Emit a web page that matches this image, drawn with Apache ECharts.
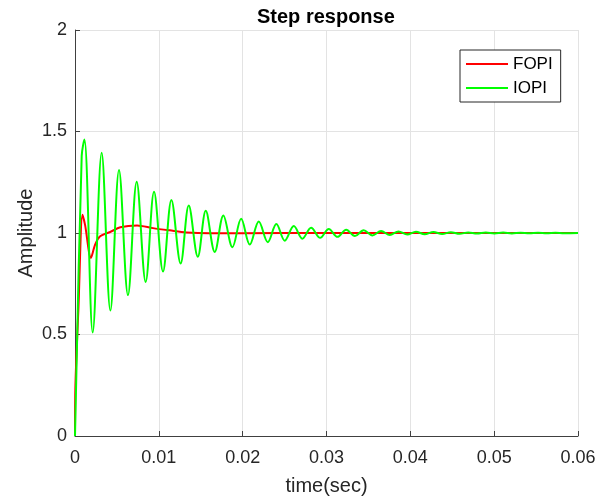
<!DOCTYPE html>
<html>
<head>
<meta charset="utf-8">
<script src="https://cdn.jsdelivr.net/npm/echarts@6/dist/echarts.min.js"></script>
<style>
  html, body { margin: 0; padding: 0; background: #fff; }
  #chart { width: 614px; height: 501px; }
</style>
</head>
<body>
<div id="chart"></div>
<script>
// Step response of the fractional-order PI (FOPI) and integer-order PI (IOPI) loops
const chartTitle = 'Step response';
const xAxisName = 'time(sec)';
const yAxisName = 'Amplitude';
const seriesNames = ['FOPI', 'IOPI'];
const xTicks = [0, 0.01, 0.02, 0.03, 0.04, 0.05, 0.06];
const yTicks = [0, 0.5, 1, 1.5, 2];

// FOPI: one overshoot, a dip, then a slow hump back to 1
const fopiTime = [0, 0.00005, 0.0004, 0.0009, 0.0012, 0.0019, 0.0024, 0.003, 0.0042,
  0.0054, 0.0074, 0.0093, 0.0113, 0.0133, 0.016, 0.02, 0.03, 0.06];
const fopiAmp = [0, 0.25, 0.62, 1.09, 1.04, 0.878, 0.943, 0.984, 1.005,
  1.028, 1.037, 1.024, 1.013, 1.003, 0.999, 0.999, 1.0, 1.0];

// IOPI: lightly damped oscillation (successive peaks and troughs)
const iopiTime = [0, 0.0008, 0.00112, 0.00211, 0.00318, 0.00422, 0.00525, 0.00632,
  0.00736, 0.00843, 0.00943, 0.0105, 0.0115, 0.0126, 0.01357, 0.01465, 0.0156,
  0.01667, 0.0177, 0.01878, 0.01982, 0.02085, 0.02192, 0.023, 0.02402, 0.02502,
  0.0261, 0.02712, 0.02816, 0.02924, 0.03027, 0.03131, 0.03235, 0.03339, 0.03443,
  0.03547, 0.03651, 0.03755, 0.03859, 0.03963, 0.04067, 0.04171, 0.04275, 0.04379,
  0.04483, 0.04587, 0.04691, 0.04795, 0.04899, 0.05003, 0.05107, 0.05211, 0.05315,
  0.05419, 0.05523, 0.05627, 0.05731, 0.05835, 0.06];
const iopiAmp = [0, 1.38, 1.46, 0.51, 1.395, 0.618, 1.31, 0.694,
  1.252, 0.759, 1.203, 0.81, 1.163, 0.85, 1.135, 0.883, 1.109,
  0.907, 1.086, 0.93, 1.07, 0.943, 1.057, 0.955, 1.044, 0.962,
  1.034, 0.972, 1.026, 0.976, 1.02, 0.981, 1.016, 0.985, 1.013,
  0.988, 1.01, 0.99, 1.008, 0.992, 1.006, 0.994, 1.005, 0.995,
  1.004, 0.996, 1.003, 0.997, 1.002, 0.998, 1.002, 0.998, 1.001,
  0.999, 1.001, 0.999, 1.001, 0.999, 1.0];

const pairs = (xs, ys) => xs.map((x, i) => [x, ys[i]]);
const font = "'Liberation Sans', Arial, Helvetica, sans-serif";
const axisColor = '#404040';
const textColor = '#262626';
const gridColor = '#e3e3e3';

const chart = echarts.init(document.getElementById('chart'), null, { renderer: 'canvas' });
chart.setOption({
  animation: false,
  backgroundColor: '#ffffff',
  textStyle: { fontFamily: font },
  title: {
    text: chartTitle,
    left: 257,
    top: 7,
    padding: 0,
    textStyle: { fontFamily: font, fontSize: 20, fontWeight: 'bold', color: '#000' }
  },
  legend: {
    data: seriesNames,
    orient: 'vertical',
    left: 460,
    top: 50,
    padding: [4, 8, 4, 6],
    itemGap: 4,
    itemWidth: 42,
    itemHeight: 2,
    icon: 'rect',
    borderColor: textColor,
    borderWidth: 1,
    backgroundColor: '#fff',
    textStyle: { fontFamily: font, fontSize: 17, color: '#000', lineHeight: 20 }
  },
  grid: { left: 75, right: 36, top: 30, bottom: 61, containLabel: false },
  xAxis: {
    type: 'value',
    min: xTicks[0],
    max: xTicks[xTicks.length - 1],
    interval: 0.01,
    name: xAxisName,
    nameLocation: 'middle',
    nameGap: 40,
    nameMoveOverlap: false,
    nameTextStyle: { fontFamily: font, fontSize: 20, color: textColor },
    axisLine: { show: true, lineStyle: { color: axisColor, width: 1 } },
    axisTick: { show: true, inside: true, length: 5, lineStyle: { color: axisColor } },
    axisLabel: {
      fontFamily: font, fontSize: 18, color: textColor, margin: 13,
      formatter: v => (v === 0 ? '0' : v.toFixed(2))
    },
    splitLine: { show: true, lineStyle: { color: gridColor, width: 1 } }
  },
  yAxis: {
    type: 'value',
    min: yTicks[0],
    max: yTicks[yTicks.length - 1],
    interval: 0.5,
    name: yAxisName,
    nameLocation: 'middle',
    nameGap: 39,
    nameMoveOverlap: false,
    nameTextStyle: { fontFamily: font, fontSize: 20, color: textColor },
    axisLine: { show: true, lineStyle: { color: axisColor, width: 1 } },
    axisTick: { show: true, inside: true, length: 5, lineStyle: { color: axisColor } },
    axisLabel: { fontFamily: font, fontSize: 18, color: textColor, margin: 8 },
    splitLine: { show: true, lineStyle: { color: gridColor, width: 1 } }
  },
  series: [
    {
      name: seriesNames[0],
      type: 'line',
      data: pairs(fopiTime, fopiAmp),
      showSymbol: false,
      symbol: 'none',
      smooth: 0.3,
      color: '#ff0000',
      lineStyle: { color: '#ff0000', width: 2 },
      z: 2
    },
    {
      name: seriesNames[1],
      type: 'line',
      data: pairs(iopiTime, iopiAmp),
      showSymbol: false,
      symbol: 'none',
      smooth: 0.35,
      color: '#00ff00',
      lineStyle: { color: '#00ff00', width: 2 },
      z: 3
    }
  ]
});
</script>
</body>
</html>
